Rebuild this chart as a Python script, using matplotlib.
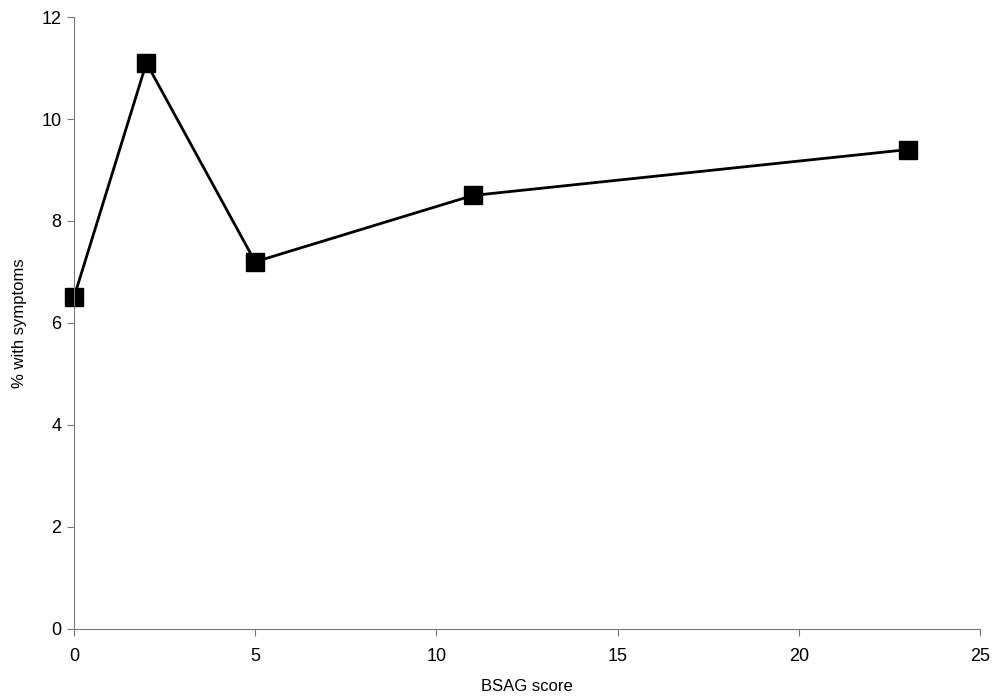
import matplotlib
matplotlib.use("Agg")
import matplotlib.pyplot as plt

bsag_score = [0, 2, 5, 11, 23]
pct_symptoms = [6.5, 11.1, 7.2, 8.5, 9.4]

x_ticks = [0, 5, 10, 15, 20, 25]
y_ticks = [0, 2, 4, 6, 8, 10, 12]

plt.rcParams["font.family"] = ["Liberation Sans", "DejaVu Sans"]

fig = plt.figure(figsize=(9.99, 6.97), dpi=100)
ax = fig.add_axes([0.074, 0.0976, 0.907, 0.878])

ax.plot(bsag_score, pct_symptoms, color="black", linewidth=2,
        marker="s", markersize=13, markerfacecolor="black",
        markeredgecolor="black", clip_on=False)

ax.set_xlim(0, 25)
ax.set_ylim(0, 12)
ax.set_xticks(x_ticks)
ax.set_yticks(y_ticks)

for side in ("top", "right"):
    ax.spines[side].set_visible(False)
for side in ("left", "bottom"):
    ax.spines[side].set_color("#777777")
    ax.spines[side].set_linewidth(0.8)

ax.tick_params(direction="out", length=5, width=0.8, color="#777777",
               labelsize=13, pad=4)
ax.tick_params(axis="x", pad=9)

ax.set_xlabel("BSAG score", fontsize=12, labelpad=10)
ax.set_ylabel("% with symptoms", fontsize=12, labelpad=10)

fig.savefig("out.png", dpi=100)
